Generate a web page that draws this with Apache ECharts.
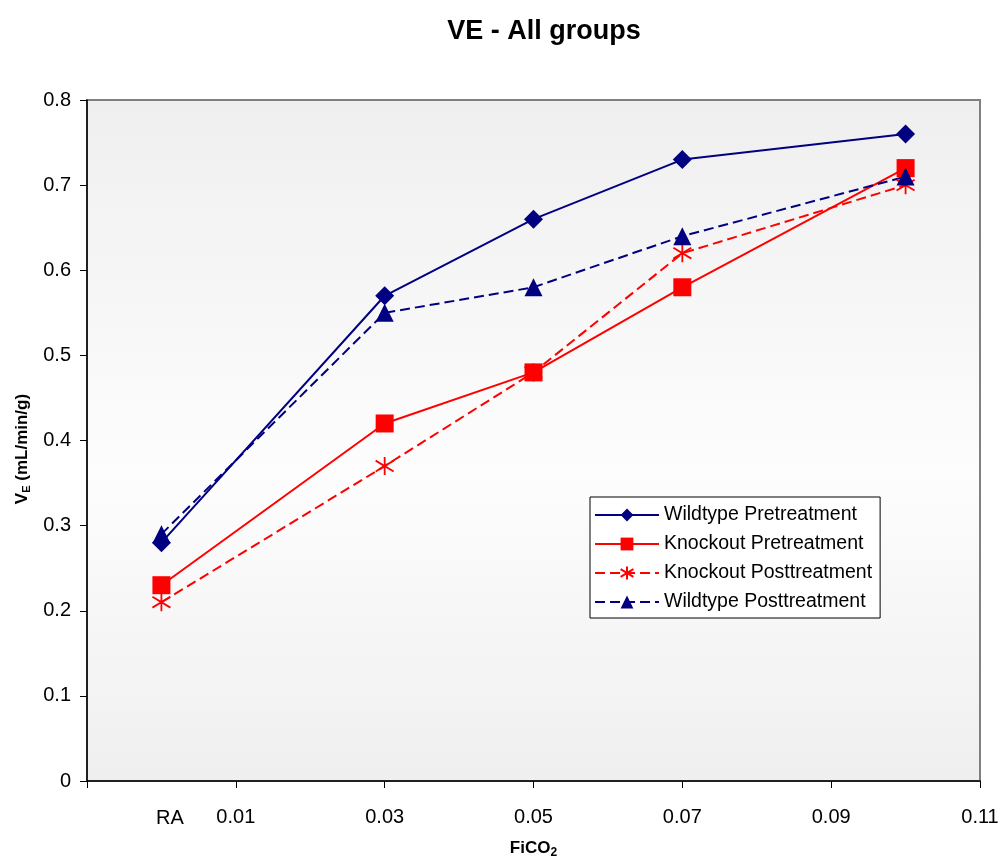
<!DOCTYPE html>
<html>
<head>
<meta charset="utf-8">
<script src="https://cdn.jsdelivr.net/npm/echarts@6/dist/echarts.min.js"></script>
<style>
  html, body { margin: 0; padding: 0; background: #ffffff; }
  #chart { width: 1002px; height: 861px; }
</style>
</head>
<body>
<div id="chart"></div>
<script>
// FiCO2 levels (RA = room air, plotted at 0)
const fico2 = [0, 0.03, 0.05, 0.07, 0.10];
const wildtypePre  = [0.28, 0.57, 0.66, 0.73, 0.76];
const knockoutPre  = [0.23, 0.42, 0.48, 0.58, 0.72];
const knockoutPost = [0.21, 0.37, 0.48, 0.62, 0.70];
const wildtypePost = [0.29, 0.55, 0.58, 0.64, 0.71];
const seriesNames = ['Wildtype Pretreatment', 'Knockout Pretreatment', 'Knockout Posttreatment', 'Wildtype Posttreatment'];
const yTicks = [0, 0.1, 0.2, 0.3, 0.4, 0.5, 0.6, 0.7, 0.8];

// x axis ticks sit at odd hundredths (0.01, 0.03 ...); shift the scale so ticks start from 0
const X_SHIFT = 0.01;
const pts = vals => fico2.map((x, i) => [x + X_SHIFT, vals[i]]);

const FONT = 'Liberation Sans, Arial, sans-serif';
const NAVY = '#000080';
const RED = '#ff0000';
const ASTERISK = 'path://M10,0L10,20M1,4L19,16M19,4L1,16';
const DASH = [10, 5];

const chart = echarts.init(document.getElementById('chart'));
chart.setOption({
  animation: false,
  backgroundColor: '#ffffff',
  textStyle: { fontFamily: FONT },
  title: {
    text: 'VE - All groups',
    left: 539, top: 13, textAlign: 'center',
    textStyle: { fontSize: 27, fontWeight: 'bold', color: '#000', fontFamily: FONT }
  },
  grid: {
    left: 87, right: 22, top: 100, bottom: 80,
    containLabel: false,
    outerBoundsMode: 'none',
    show: true,
    borderColor: '#808080', borderWidth: 2,
    backgroundColor: {
      type: 'linear', x: 0, y: 0, x2: 0, y2: 1,
      colorStops: [
        { offset: 0, color: '#efefef' },
        { offset: 0.55, color: '#fdfdfd' },
        { offset: 1, color: '#efefef' }
      ]
    }
  },
  xAxis: {
    type: 'value',
    min: 0, max: 0.12, interval: 0.02,
    splitLine: { show: false },
    axisLine: { lineStyle: { color: '#000', width: 1.5 } },
    axisTick: { length: 7, lineStyle: { color: '#000', width: 1 } },
    axisLabel: {
      fontSize: 20, color: '#000', margin: 26,
      formatter: v => (Math.abs(v) < 1e-9 ? '' : (v - X_SHIFT).toFixed(2))
    },
    name: '{a|FiCO}{b|2}',
    nameLocation: 'middle', nameGap: 56,
    nameTextStyle: {
      rich: {
        a: { fontSize: 17, fontWeight: 'bold', color: '#000' },
        b: { fontSize: 12, fontWeight: 'bold', color: '#000', padding: [10, 0, 0, 0] }
      }
    }
  },
  yAxis: {
    type: 'value',
    min: yTicks[0], max: yTicks[yTicks.length - 1], interval: 0.1,
    splitLine: { show: false },
    axisLine: { show: true, lineStyle: { color: '#000', width: 1.5 } },
    axisTick: { show: true, length: 7, lineStyle: { color: '#000', width: 1 } },
    axisLabel: { fontSize: 20, color: '#000', margin: 16, formatter: v => String(+v.toFixed(1)) }
  },
  legend: {
    orient: 'vertical',
    left: 590, top: 497,
    padding: [8, 8, 6, 4],
    itemWidth: 64, itemHeight: 16, itemGap: 9,
    backgroundColor: '#ffffff', borderColor: '#000', borderWidth: 1,
    textStyle: { fontSize: 19.5, color: '#000' },
    data: seriesNames
  },
  graphic: [
    {
      type: 'text', left: 156, top: 808, silent: true,
      style: { text: 'RA', fontSize: 20, fill: '#000', fontFamily: FONT }
    },
    {
      // y axis title with subscript E
      type: 'text', x: 22, y: 449, rotation: Math.PI / 2, silent: true,
      style: {
        text: '{a|V}{b|E}{a| (mL/min/g)}',
        align: 'center', verticalAlign: 'middle',
        rich: {
          a: { fontSize: 17, fontWeight: 'bold', fill: '#000', fontFamily: FONT },
          b: { fontSize: 11, fontWeight: 'bold', fill: '#000', fontFamily: FONT, padding: [9, 0, 0, 0] }
        }
      }
    }
  ],
  series: [
    {
      name: seriesNames[0], type: 'line', data: pts(wildtypePre),
      symbol: 'diamond', symbolSize: 19,
      lineStyle: { color: NAVY, width: 2 },
      itemStyle: { color: NAVY }
    },
    {
      name: seriesNames[1], type: 'line', data: pts(knockoutPre),
      symbol: 'rect', symbolSize: 18,
      lineStyle: { color: RED, width: 2 },
      itemStyle: { color: RED }
    },
    {
      name: seriesNames[2], type: 'line', data: pts(knockoutPost),
      symbol: ASTERISK, symbolSize: 18,
      lineStyle: { color: RED, width: 2, type: DASH },
      itemStyle: { color: 'none', borderColor: RED, borderWidth: 1.8 }
    },
    {
      name: seriesNames[3], type: 'line', data: pts(wildtypePost),
      symbol: 'triangle', symbolSize: 18,
      lineStyle: { color: NAVY, width: 2, type: DASH },
      itemStyle: { color: NAVY }
    }
  ]
});
</script>
</body>
</html>
